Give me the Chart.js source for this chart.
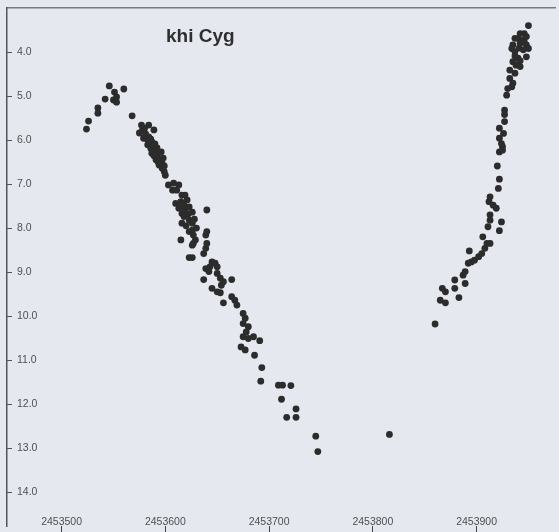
<!DOCTYPE html>
<html>
<head>
<meta charset="utf-8">
<script src="https://cdn.jsdelivr.net/npm/chart.js@4/dist/chart.umd.min.js"></script>
<style>
    html, body { margin: 0; padding: 0; background: #e5e8ee; overflow: hidden; }
    #caja { position: relative; width: 559px; height: 532px; }
    #titulo {
        position: absolute; left: 166px; top: 25px;
        font: bold 19px "Liberation Sans", Arial, sans-serif; color: #2f2f2f;
    }
</style>
</head>
<body>
<div id="caja">
    <canvas id="curva"></canvas>
    <div id="titulo">khi Cyg</div>
</div>
<script>
// fechas julianas y magnitudes
const jd = [
    2453524, 2453526, 2453535, 2453535, 2453542, 2453546, 2453550, 2453551, 2453553, 2453553, 2453560, 2453568,
    2453575, 2453577, 2453578, 2453579, 2453580, 2453581, 2453583, 2453583, 2453584, 2453584, 2453585, 2453586,
    2453586, 2453587, 2453587, 2453589, 2453589, 2453589, 2453590, 2453591, 2453591, 2453592, 2453592, 2453593,
    2453594, 2453594, 2453595, 2453596, 2453597, 2453597, 2453598, 2453599, 2453599, 2453600,
    2453603, 2453607, 2453608, 2453610, 2453611, 2453613, 2453613, 2453615, 2453615, 2453616, 2453616, 2453616,
    2453618, 2453618, 2453619, 2453619, 2453620, 2453621, 2453622, 2453623, 2453623, 2453623, 2453623, 2453626,
    2453626, 2453626, 2453626, 2453626, 2453627, 2453627, 2453628, 2453629, 2453630, 2453637, 2453637, 2453639,
    2453639, 2453639, 2453640, 2453640, 2453640, 2453642, 2453643, 2453645, 2453645, 2453648, 2453650, 2453650,
    2453650, 2453653, 2453653, 2453654, 2453656, 2453656, 2453664, 2453664, 2453667, 2453669, 2453673, 2453675,
    2453675, 2453675, 2453677, 2453677, 2453678, 2453680, 2453680, 2453685, 2453686, 2453691, 2453692, 2453693,
    2453709, 2453712, 2453713, 2453717, 2453721, 2453726, 2453726, 2453745, 2453747, 2453816,
    2453860, 2453865, 2453867, 2453870, 2453870, 2453879, 2453879, 2453883, 2453887, 2453889, 2453889, 2453892,
    2453893, 2453895, 2453898, 2453902, 2453905, 2453906, 2453908, 2453910, 2453911, 2453912, 2453913, 2453913,
    2453913, 2453913, 2453916, 2453919, 2453920, 2453921, 2453922, 2453922, 2453922, 2453922, 2453922, 2453924,
    2453924, 2453925, 2453925, 2453926, 2453927, 2453927, 2453927, 2453929, 2453930, 2453932, 2453932, 2453934,
    2453934, 2453935, 2453935, 2453935, 2453937, 2453937, 2453937, 2453937, 2453938, 2453940, 2453940, 2453941,
    2453942, 2453942, 2453942, 2453942, 2453945, 2453945, 2453946, 2453946, 2453948, 2453948, 2453948, 2453950,
    2453950
];
const mag = [
    5.75, 5.57, 5.27, 5.39, 5.07, 4.77, 5.09, 4.91, 5.02, 5.14, 4.84, 5.45,
    5.84, 5.66, 5.77, 5.96, 5.73, 5.86, 6.00, 6.11, 5.66, 5.93, 6.08, 6.19,
    5.98, 6.04, 6.30, 5.77, 6.15, 6.36, 6.09, 6.23, 6.45, 6.18, 6.34, 6.50,
    6.42, 6.57, 6.45, 6.27, 6.53, 6.64, 6.41, 6.72, 6.59, 6.80,
    7.02, 7.14, 6.98, 7.44, 7.14, 7.02, 7.55, 7.40, 8.27, 7.25, 7.67, 7.89,
    7.48, 7.74, 7.25, 7.59, 7.95, 7.36, 7.68, 7.82, 8.08, 8.67, 7.52, 7.89,
    8.05, 8.39, 8.67, 7.64, 8.16, 8.35, 7.80, 8.27, 8.00, 8.58, 9.17, 8.16,
    8.46, 8.92, 7.59, 8.08, 8.35, 8.99, 8.88, 8.77, 9.37, 8.80, 8.88, 9.03,
    9.45, 9.14, 9.47, 9.30, 9.22, 9.70, 9.17, 9.56, 9.64, 9.75, 10.70, 9.94,
    10.17, 10.47, 10.05, 10.77, 10.36, 10.24, 10.51, 10.47, 10.89, 10.56, 11.48, 11.17,
    11.57, 11.89, 11.57, 12.30, 11.58, 12.11, 12.30, 12.73, 13.08, 12.69,
    10.18, 9.64, 9.37, 9.70, 9.45, 9.37, 9.18, 9.58, 9.07, 8.99, 9.26, 8.80,
    8.52, 8.77, 8.73, 8.65, 8.58, 8.20, 8.46, 8.35, 7.97, 7.40, 8.35, 7.70,
    7.82, 7.29, 7.48, 7.55, 6.59, 7.10, 8.06, 6.89, 6.27, 5.96, 5.73, 7.86,
    6.08, 6.15, 6.23, 5.85, 5.58, 5.42, 5.32, 4.98, 4.83, 4.60, 4.41, 4.79,
    3.92, 4.71, 4.22, 3.84, 4.48, 3.99, 3.69, 4.09, 4.30, 4.14, 3.69, 3.91,
    4.33, 4.20, 3.80, 3.58, 3.95, 3.73, 3.77, 3.58, 4.11, 3.84, 3.65, 3.92,
    3.40
];
const ticksX = [2453500, 2453600, 2453700, 2453800, 2453900];
const ticksY = [4, 5, 6, 7, 8, 9, 10, 11, 12, 13, 14];

document.addEventListener('DOMContentLoaded', () => {
    const puntos = jd.map((d, i) => ({ x: d, y: mag[i] }));
    const fuente = { family: '"Liberation Sans", Arial, sans-serif', size: 10.5 };

    // los ejes no deben reservar espacio: las etiquetas van dentro del marco
    const sinEspacio = (ancho, alto) => (s) => {
        if (ancho !== null) s.width = ancho;
        if (alto !== null) s.height = alto;
        s.paddingTop = 0; s.paddingBottom = 0;
        s.paddingLeft = 0; s.paddingRight = 0;
    };

    new Chart(document.getElementById('curva'), {
        type: 'scatter',
        data: {
            datasets: [{
                label: 'khi Cyg',
                data: puntos,
                backgroundColor: '#2c2c2c',
                borderWidth: 0,
                pointRadius: 3.4
            }]
        },
        options: {
            responsive: true,
            maintainAspectRatio: false,
            animation: false,
            layout: { padding: { left: 7, top: 8, right: 0, bottom: 0 } },
            plugins: { legend: { display: false }, tooltip: { enabled: false } },
            scales: {
                x: {
                    type: 'linear',
                    position: 'bottom',
                    min: 2453447.4,
                    max: 2453975.6,
                    afterBuildTicks: (s) => { s.ticks = ticksX.map(v => ({ value: v })); },
                    afterFit: sinEspacio(null, 6),
                    ticks: {
                        mirror: true,
                        padding: -2,
                        color: '#505050',
                        font: fuente,
                        maxRotation: 0,
                        callback: (v) => String(v)
                    },
                    grid: { drawOnChartArea: false, tickLength: 6, color: '#444' },
                    border: { display: false }
                },
                xTop: {
                    type: 'linear',
                    position: 'top',
                    min: 2453447.4,
                    max: 2453975.6,
                    afterFit: sinEspacio(null, 0),
                    ticks: { display: false },
                    grid: { drawOnChartArea: false, drawTicks: false },
                    border: { display: true, color: '#7a7a7a', width: 1.5 }
                },
                y: {
                    type: 'linear',
                    position: 'left',
                    reverse: true,
                    min: 3,
                    max: 14.77,
                    afterBuildTicks: (s) => { s.ticks = ticksY.map(v => ({ value: v })); },
                    afterFit: sinEspacio(0, null),
                    ticks: {
                        mirror: true,
                        padding: 10,
                        color: '#505050',
                        font: fuente,
                        callback: (v) => v.toFixed(1)
                    },
                    grid: { drawOnChartArea: false, tickLength: -5, color: '#555' },
                    border: { display: true, color: '#555', width: 1.5 }
                }
            }
        }
    });
});
</script>
</body>
</html>
